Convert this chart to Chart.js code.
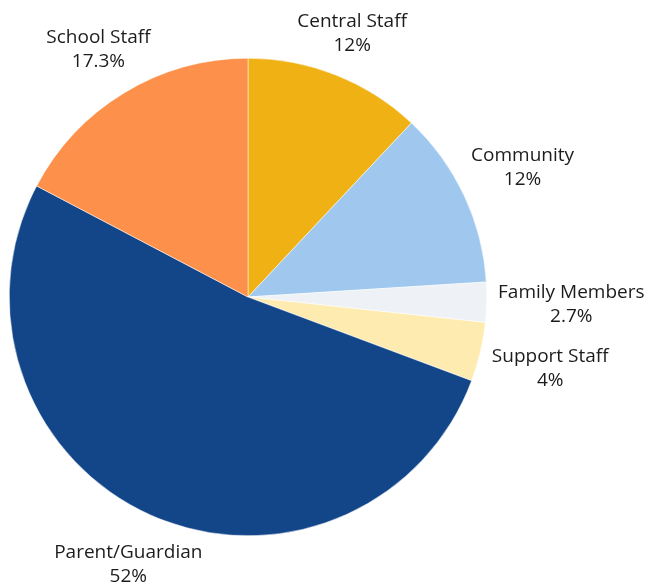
<!DOCTYPE html>
<html>
<head>
<meta charset="utf-8">
<script src="https://cdn.jsdelivr.net/npm/chart.js@4"></script>
<style>
  html, body { margin: 0; padding: 0; background: #fff; }
  #wrap { width: 645px; height: 582px; }
</style>
</head>
<body>
<div id="wrap"><canvas id="pieChart" width="645" height="582"></canvas></div>
<script>
const categories = ['Central Staff', 'Community', 'Family Members', 'Support Staff', 'Parent/Guardian', 'School Staff'];
const percentages = [12, 12, 2.7, 4, 52, 17.3];
const sliceColors = ['#f0b114', '#a0c8ee', '#eef2f6', '#feebb0', '#134589', '#fd914b'];

// Draws "name / value%" outside each slice, pushed out along the slice's mid angle
const outsideLabels = {
  id: 'outsideLabels',
  afterDatasetsDraw(chart) {
    const ctx = chart.ctx;
    const meta = chart.getDatasetMeta(0);
    const lineH = 24;
    ctx.save();
    ctx.font = '19px "Open Sans"';
    ctx.fillStyle = '#1c1c1c';
    ctx.textAlign = 'center';
    ctx.textBaseline = 'middle';
    meta.data.forEach((arc, i) => {
      const mid = (arc.startAngle + arc.endAngle) / 2;
      const lines = [categories[i], percentages[i] + '%'];
      const w = Math.max(...lines.map(t => ctx.measureText(t).width));
      const h = lineH * 2;
      const cos = Math.cos(mid), sin = Math.sin(mid);
      // half-size of the text box seen along the slice direction
      const extent = Math.abs(cos) * (w / 2 + 6) + Math.abs(sin) * (h / 2 - 6);
      const dist = arc.outerRadius + 5 + extent;
      const cx = arc.x + cos * dist;
      const cy = arc.y + sin * dist;
      ctx.fillText(lines[0], cx, cy - lineH / 2);
      ctx.fillText(lines[1], cx, cy + lineH / 2);
    });
    ctx.restore();
  }
};

new Chart(document.getElementById('pieChart'), {
  type: 'pie',
  data: {
    labels: categories,
    datasets: [{
      data: percentages,
      backgroundColor: sliceColors,
      borderColor: '#ffffff',
      borderWidth: 0.5
    }]
  },
  options: {
    responsive: false,
    animation: false,
    layout: { padding: { left: 9, right: 158, top: 58, bottom: 46 } },
    plugins: {
      legend: { display: false },
      tooltip: { enabled: false }
    }
  },
  plugins: [outsideLabels]
});
</script>
</body>
</html>
